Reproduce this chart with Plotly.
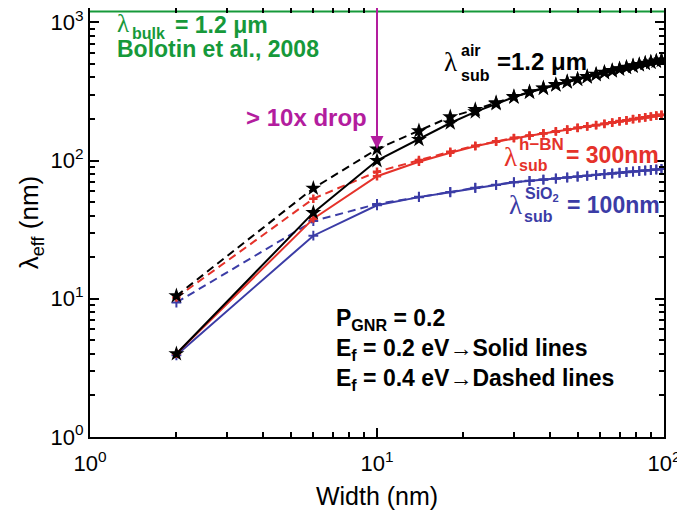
import plotly.graph_objects as go

# Data
width_nm = [2, 6, 10, 14, 18, 22, 26, 30, 34, 38, 42, 46, 50, 54, 58, 62, 66, 70, 74, 78, 82, 86, 90, 94, 98]

air_solid = [4.0, 42, 100, 142, 187, 225, 258, 288, 312, 333, 352, 370, 387, 403, 419, 433, 446, 459, 471, 482, 493, 504, 514, 523, 532]
air_dash = [10.5, 63, 121, 164, 207, 234, 262, 290, 314, 335, 354, 372, 389, 405, 421, 435, 448, 461, 473, 484, 495, 506, 516, 525, 534]

hbn_solid = [4.0, 38, 77, 98, 114, 127, 137, 145, 151, 157, 162, 167, 172, 176, 180, 184, 188, 192, 195, 199, 202, 205, 208, 211, 214]
hbn_dash = [10.2, 53, 83, 101, 116, 128, 138, 146, 152, 158, 163, 168, 173, 177, 181, 185, 189, 193, 196, 200, 203, 206, 209, 212, 215]

sio2_solid = [3.9, 28.6, 47.5, 54.4, 59, 63.4, 66.6, 69.6, 71.2, 72.7, 74.0, 75.3, 76.5, 77.6, 78.7, 79.7, 80.6, 81.5, 82.4, 83.2, 84.0, 84.7, 85.4, 86.1, 86.8]
sio2_dash = [9.4, 36.5, 48.5, 54.8, 59.3, 63.6, 66.8, 69.8, 71.4, 72.9, 74.2, 75.5, 76.7, 77.8, 78.9, 79.9, 80.8, 81.7, 82.6, 83.4, 84.2, 84.9, 85.6, 86.3, 87.0]

bulk_x = [1, 100]
bulk_y = [1200, 1200]

x_major = [1, 10, 100]
x_minor = [2, 3, 4, 5, 6, 7, 8, 9, 20, 30, 40, 50, 60, 70, 80, 90]
y_major = [1, 10, 100, 1000]
y_minor = [2, 3, 4, 5, 6, 7, 8, 9, 20, 30, 40, 50, 60, 70, 80, 90,
           200, 300, 400, 500, 600, 700, 800, 900]

BLACK = "#000000"
RED = "#e5322a"
BLUE = "#3b3ca6"
GREEN = "#16993a"
MAGENTA = "#b31d9e"
SANS = "Liberation Sans, Arial, sans-serif"
SERIF = "Liberation Serif, Times New Roman, serif"

fig = go.Figure()

# green bulk line
fig.add_trace(go.Scatter(x=bulk_x, y=bulk_y, mode="lines",
                         line=dict(color=GREEN, width=2), showlegend=False))

plus = dict(symbol="cross-thin-open", size=7, line=dict(width=2, color=BLUE))
redplus = dict(symbol="cross-thin-open", size=6, line=dict(width=2.5, color=RED))
star = dict(symbol="star", size=12, color=BLACK)
series = [
    (sio2_dash, BLUE, "8px,5px", plus),
    (hbn_dash, RED, "8px,5px", redplus),
    (air_dash, BLACK, "8px,5px", star),
    (sio2_solid, BLUE, "solid", plus),
    (hbn_solid, RED, "solid", redplus),
    (air_solid, BLACK, "solid", star),
]
for yv, col, dash, mk in series:
    fig.add_trace(go.Scatter(x=width_nm, y=yv, mode="lines+markers",
                             line=dict(color=col, width=2, dash=dash),
                             marker=mk, showlegend=False))


def pos(xp, yp):
    # pixel position in the screenshot -> paper coords of the plot area
    return (xp - 90) / 574, (437 - yp) / 429


def label(xp, yp, text, color, size, font=SANS):
    x, y = pos(xp, yp)
    fig.add_annotation(x=x, y=y, xref="paper", yref="paper", text=text,
                       showarrow=False, xanchor="left", yanchor="middle",
                       borderpad=0, font=dict(family=font, size=size, color=color))


# bulk label
label(116, 24, "λ", GREEN, 25, SERIF)
label(131, 33, "<b>bulk</b>", GREEN, 16)
label(174, 25, "<b>= 1.2 μm</b>", GREEN, 23)
label(116, 49, "<b>Bolotin et al., 2008</b>", GREEN, 23)

# air label
label(443, 62, "λ", BLACK, 27, SERIF)
label(460, 50, "<b>air</b>", BLACK, 16)
label(460, 75, "<b>sub</b>", BLACK, 16)
label(496, 62, "<b>=1.2 μm</b>", BLACK, 24)

# h-BN label
label(503, 157, "λ", RED, 27, SERIF)
label(518, 144, "<b>h−BN</b>", RED, 17)
label(518, 166, "<b>sub</b>", RED, 16)
label(565, 155, "<b>= 300nm</b>", RED, 23)

# SiO2 label
label(508, 205, "λ", BLUE, 27, SERIF)
label(524, 194, "<b>SiO<sub>2</sub></b>", BLUE, 16)
label(523, 216, "<b>sub</b>", BLUE, 16)
label(566, 205, "<b>= 100nm</b>", BLUE, 23)

# drop label and arrow (tip on the dashed air curve at 10 nm)
label(245, 118, "<b>&gt; 10x drop</b>", MAGENTA, 24)
fig.add_annotation(x=1, y=2.083, xref="x", yref="y", text="", showarrow=True,
                   axref="x", ayref="y", ax=1, ay=3.16,
                   arrowhead=2, arrowsize=1.3, arrowwidth=2, arrowcolor=MAGENTA)

# parameters
x0, y0 = pos(334, 349)
fig.add_annotation(x=x0, y=y0, xref="paper", yref="paper", showarrow=False,
                   xanchor="left", yanchor="middle", align="left",
                   text="<b>P<sub>GNR</sub> = 0.2<br>E<sub>f</sub> = 0.2 eV→Solid lines"
                        "<br>E<sub>f</sub> = 0.4 eV→Dashed lines</b>",
                   font=dict(family=SANS, size=23, color=BLACK))

axis_common = dict(type="log", showline=True, linewidth=2, linecolor="black", mirror="ticks",
                   ticks="inside", ticklen=9, tickwidth=2, automargin=False,
                   ticklabeloverflow="allow",
                   tickcolor="black", showgrid=False, zeroline=False,
                   tickfont=dict(family=SANS, size=22, color="black"))
x_minor_ticks = dict(tickvals=x_minor, ticks="inside", ticklen=5, tickwidth=1.5,
                     tickcolor="black", showgrid=False)
y_minor_ticks = dict(tickvals=y_minor, ticks="inside", ticklen=5, tickwidth=1.5,
                     tickcolor="black", showgrid=False)

fig.update_layout(
    xaxis=dict(range=[0, 2], tickvals=x_major, ticklabelstandoff=6,
               ticktext=["10<sup>0</sup>", "10<sup>1</sup>", "10<sup>2</sup>"],
               title=dict(text="Width (nm)", font=dict(family=SANS, size=25, color="black"), standoff=12),
               minor=x_minor_ticks, **axis_common),
    yaxis=dict(range=[0, 3.104], tickvals=y_major,
               ticktext=["10<sup>0</sup>", "10<sup>1</sup>", "10<sup>2</sup>", "10<sup>3</sup>"],
               title=dict(text="λ<sub>eff</sub> (nm)", font=dict(family=SANS, size=26, color="black"), standoff=4),
               minor=y_minor_ticks, **axis_common),
    width=685, height=512, paper_bgcolor="white", plot_bgcolor="white",
    margin=dict(l=82, r=29, t=0, b=83), showlegend=False,
)

fig.write_html("out.html")
